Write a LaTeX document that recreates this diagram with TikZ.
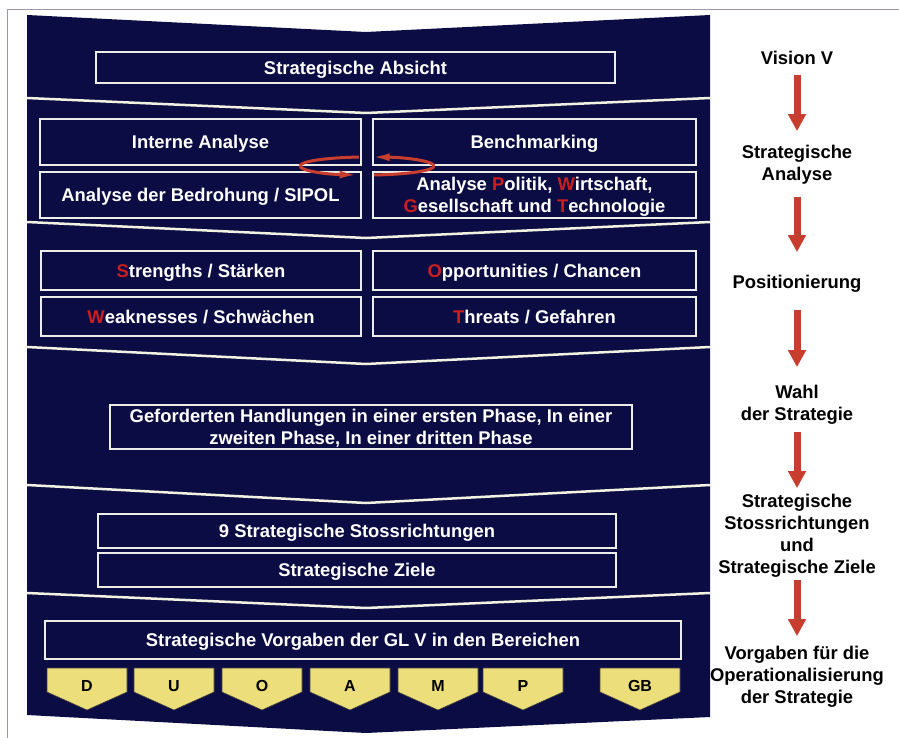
\documentclass[tikz,border=0pt]{standalone}
\usepackage{fontspec}
\setmainfont{Liberation Sans}
\usetikzlibrary{arrows.meta, positioning}
\definecolor{panel}{RGB}{12,12,68}
\definecolor{boxline}{RGB}{238,238,232}
\definecolor{sepline}{RGB}{242,242,226}
\definecolor{arrowred}{RGB}{200,62,46}
\definecolor{letterred}{RGB}{205,30,30}
\definecolor{tabyellow}{RGB}{236,222,122}
\definecolor{framegray}{RGB}{160,150,170}
\tikzstyle{every node}=[font=\bfseries\fontsize{18.4}{22}\selectfont]
\tikzstyle{box}=[draw=boxline, line width=1.6pt, inner sep=0pt, outer sep=0pt, text=white, align=center, text depth=0pt]
\tikzstyle{stage}=[align=center, inner sep=0pt, anchor=base, text=black]
\tikzstyle{flow}=[draw=arrowred, line width=7pt, -{Triangle[width=17pt,length=17pt]}]
\tikzstyle{sep}=[draw=sepline, line width=2.5pt]
\tikzstyle{tab}=[fill=tabyellow, draw=black!75, line width=0.6pt]
\tikzstyle{tablabel}=[font=\bfseries\fontsize{16}{18}\selectfont, text=black, inner sep=0pt]
\tikzstyle{cycle}=[draw=arrowred, line width=3pt]
\newcommand{\redl}[1]{\textcolor{letterred}{#1}}

\begin{document}
\begin{tikzpicture}[x=1pt, y=-1pt]
    \useasboundingbox (0,0) rectangle (899,738);
    \draw[framegray, line width=0.8pt] (899,9) -- (7,9) -- (7,738);
    % dark panel with its bands
    \fill[panel] (27,15) -- (366,32) -- (710,15) -- (710,717) -- (366,733) -- (27,715) -- cycle;
    \foreach \yl/\yc/\yr in {98/113/98, 222/238/222, 347/364/347, 485/503/485, 593/608/593}
        \draw[sep] (27,\yl) -- (366,\yc) -- (710,\yr);

    % boxes
    \node[box, minimum width=519pt, minimum height=31pt] (absicht) at (355.5,67.5) {Strategische Absicht};
    \node[box, minimum width=321pt, minimum height=46pt] (intern) at (200.5,142) {Interne Analyse};
    \node[box, minimum width=321pt, minimum height=46pt, below=7pt of intern] (bedroh) {Analyse der Bedrohung / SIPOL};
    \node[box, minimum width=323pt, minimum height=46pt] (bench) at (534.5,142) {Benchmarking};
    \node[box, minimum width=323pt, minimum height=46pt, below=7pt of bench] (pest) {Analyse \redl{P}olitik, \redl{W}irtschaft,\\\redl{G}esellschaft und \redl{T}echnologie};
    \node[box, minimum width=320pt, minimum height=39pt] (staerken) at (201,270.5) {\redl{S}trengths / Stärken};
    \node[box, minimum width=320pt, minimum height=39pt, below=7pt of staerken] (schwaechen) {\redl{W}eaknesses / Schwächen};
    \node[box, minimum width=323pt, minimum height=39pt] (chancen) at (534.5,270.5) {\redl{O}pportunities / Chancen};
    \node[box, minimum width=323pt, minimum height=39pt, below=7pt of chancen] (gefahren) {\redl{T}hreats / Gefahren};
    \node[box, minimum width=522pt, minimum height=44pt] (handlung) at (371,427) {Geforderten Handlungen in einer ersten Phase, In einer\\zweiten Phase, In einer dritten Phase};
    \node[box, minimum width=518pt, minimum height=34pt] (stoss) at (357,531) {9 Strategische Stossrichtungen};
    \node[box, minimum width=518pt, minimum height=34pt, below=5pt of stoss] (ziele) {Strategische Ziele};
    \node[box, minimum width=636pt, minimum height=38pt] (vorgaben) at (363,640) {Strategische Vorgaben der GL V in den Bereichen};

    % Bereiche
    \foreach \cx/\lab in {87/D, 174/U, 262/O, 350/A, 438/M, 523/P, 640/GB} {
        \filldraw[tab] (\cx-40,668) -- (\cx+40,668) -- (\cx+40,692) -- (\cx,710) -- (\cx-40,692) -- cycle;
        \node[tablabel] (tab-\lab) at (\cx,686) {\lab};
    }

    % cycle between the two analyses
    \draw[cycle, -{Latex[length=18pt,width=8pt]}] (434,166) arc[start angle=0, end angle=86, x radius=67pt, y radius=9pt];
    \draw[cycle] (367,166) ++(97:67pt and 9pt) arc[start angle=97, end angle=180, x radius=67pt, y radius=9pt];
    \draw[cycle, -{Latex[length=18pt,width=8pt]}] (300,166) arc[start angle=180, end angle=262, x radius=67pt, y radius=9pt];
    \draw[cycle] (367,166) ++(276:67pt and 9pt) arc[start angle=276, end angle=360, x radius=67pt, y radius=9pt];

    % stages
    \node[stage] (vision) at (797,64.7) {Vision V};
    \node[stage] (stratan) at (797,180.7) {Strategische\\Analyse};
    \node[stage] (posit) at (797,288.7) {Positionierung};
    \node[stage] (wahl) at (797,420.7) {Wahl\\der Strategie};
    \node[stage] (stossziele) at (797,573.7) {Strategische\\Stossrichtungen\\und\\Strategische Ziele};
    \node[stage] (operat) at (797,703.7) {Vorgaben für die\\Operationalisierung\\der Strategie};
    \draw[flow, shorten <=10pt, shorten >=14pt] (vision.south) -- (stratan.north);
    \draw[flow, shorten <=12pt, shorten >=23pt] (stratan.south) -- (posit.north);
    \draw[flow, shorten <=17pt, shorten >=18pt] (posit.south) -- (wahl.north);
    \draw[flow, shorten <=7pt, shorten >=6pt] (wahl.south) -- (stossziele.north);
    \draw[flow, shorten <=2.5pt, shorten >=10pt] (stossziele.south) -- (operat.north);
\end{tikzpicture}
\end{document}
